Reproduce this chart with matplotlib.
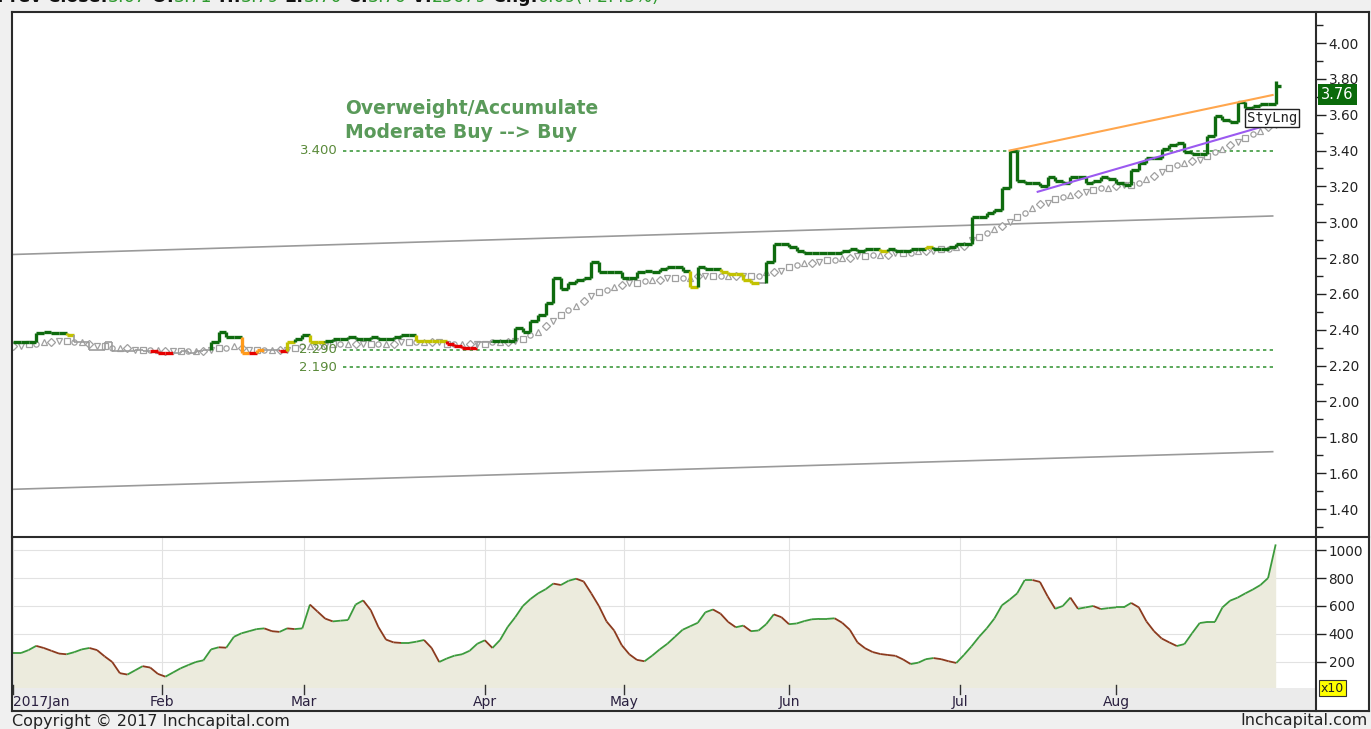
import numpy as np
import matplotlib
matplotlib.use('Agg')
import matplotlib.pyplot as plt
from matplotlib.collections import LineCollection
from matplotlib.patches import Rectangle
from matplotlib.lines import Line2D
from matplotlib.ticker import MultipleLocator

# ---------- data (one value per trading day) ----------
close = [2.33, 2.33, 2.33, 2.38, 2.39, 2.38, 2.38, 2.37, 2.33, 2.33,
         2.29, 2.29, 2.33, 2.28, 2.28, 2.28, 2.29, 2.28, 2.28, 2.27,
         2.27, 2.27, 2.28, 2.27, 2.28, 2.29, 2.33, 2.39, 2.36, 2.36,
         2.27, 2.27, 2.29, 2.29, 2.29, 2.28, 2.33, 2.35, 2.37, 2.33,
         2.33, 2.34, 2.35, 2.35, 2.36, 2.35, 2.35, 2.36, 2.35, 2.35,
         2.36, 2.37, 2.37, 2.34, 2.34, 2.34, 2.34, 2.32, 2.31, 2.30,
         2.30, 2.33, 2.33, 2.34, 2.34, 2.34, 2.41, 2.39, 2.45, 2.48,
         2.55, 2.69, 2.63, 2.66, 2.68, 2.69, 2.78, 2.72, 2.72, 2.72,
         2.69, 2.69, 2.72, 2.73, 2.72, 2.74, 2.75, 2.75, 2.73, 2.64,
         2.75, 2.74, 2.74, 2.72, 2.71, 2.71, 2.68, 2.66, 2.66, 2.78,
         2.88, 2.88, 2.86, 2.84, 2.83, 2.83, 2.83, 2.83, 2.83, 2.84,
         2.85, 2.84, 2.85, 2.85, 2.84, 2.85, 2.84, 2.84, 2.85, 2.85,
         2.86, 2.85, 2.85, 2.86, 2.88, 2.88, 3.03, 3.03, 3.05, 3.07,
         3.19, 3.40, 3.23, 3.22, 3.22, 3.20, 3.25, 3.23, 3.22, 3.25,
         3.25, 3.22, 3.23, 3.25, 3.24, 3.22, 3.21, 3.29, 3.33, 3.36,
         3.36, 3.41, 3.43, 3.44, 3.39, 3.38, 3.38, 3.48, 3.59, 3.57,
         3.56, 3.67, 3.64, 3.65, 3.66, 3.66, 3.76]

# bar colour state: G green, Y yellow, O orange, R red, N neutral
state_runs = [('G', 7), ('Y', 1), ('N', 10), ('R', 3), ('N', 5), ('G', 4),
              ('O', 1), ('R', 1), ('O', 1), ('N', 2), ('R', 1), ('Y', 1),
              ('G', 2), ('Y', 2), ('G', 12), ('Y', 4), ('R', 4), ('N', 2),
              ('G', 26), ('Y', 1), ('G', 3), ('Y', 5), ('N', 1), ('G', 15),
              ('Y', 1), ('G', 5), ('Y', 1), ('G', 46)]

trail = [2.31, 2.31, 2.32, 2.32, 2.33, 2.33, 2.34, 2.34, 2.33, 2.33,
         2.32, 2.31, 2.31, 2.30, 2.30, 2.30, 2.29, 2.29, 2.29, 2.29,
         2.28, 2.28, 2.28, 2.28, 2.28, 2.28, 2.29, 2.30, 2.30, 2.31,
         2.30, 2.29, 2.29, 2.29, 2.29, 2.29, 2.29, 2.30, 2.31, 2.31,
         2.31, 2.31, 2.32, 2.32, 2.32, 2.32, 2.32, 2.32, 2.32, 2.32,
         2.32, 2.33, 2.33, 2.33, 2.33, 2.33, 2.33, 2.32, 2.32, 2.32,
         2.32, 2.32, 2.32, 2.33, 2.33, 2.33, 2.34, 2.35, 2.37, 2.39,
         2.42, 2.45, 2.48, 2.51, 2.53, 2.56, 2.59, 2.61, 2.62, 2.64,
         2.65, 2.66, 2.66, 2.67, 2.68, 2.68, 2.69, 2.69, 2.69, 2.69,
         2.70, 2.70, 2.70, 2.70, 2.70, 2.70, 2.70, 2.70, 2.70, 2.72,
         2.72, 2.73, 2.75, 2.76, 2.77, 2.77, 2.78, 2.79, 2.79, 2.80,
         2.80, 2.81, 2.81, 2.82, 2.82, 2.82, 2.83, 2.83, 2.83, 2.84,
         2.84, 2.84, 2.85, 2.85, 2.86, 2.87, 2.90, 2.92, 2.94, 2.96,
         2.98, 3.00, 3.03, 3.05, 3.08, 3.10, 3.11, 3.13, 3.14, 3.15,
         3.16, 3.17, 3.18, 3.19, 3.19, 3.20, 3.21, 3.21, 3.22, 3.24,
         3.26, 3.28, 3.30, 3.32, 3.33, 3.34, 3.35, 3.37, 3.39, 3.41,
         3.43, 3.45, 3.47, 3.49, 3.51, 3.53, 3.54]

osc = [264, 264, 285, 315, 300, 280, 260, 255, 270, 290,
       300, 285, 240, 200, 120, 110, 140, 170, 160, 115,
       95, 125, 155, 178, 200, 212, 290, 305, 302, 380,
       405, 420, 435, 440, 420, 415, 440, 435, 440, 610,
       560, 510, 490, 495, 500, 610, 640, 570, 450, 360,
       340, 336, 336, 345, 357, 300, 200, 225, 245, 255,
       280, 330, 355, 300, 357, 450, 520, 600, 650, 690,
       720, 760, 750, 780, 795, 775, 690, 600, 490, 425,
       320, 255, 215, 205, 245, 290, 330, 380, 430, 455,
       480, 555, 575, 545, 486, 448, 460, 420, 425, 470,
       540, 520, 470, 475, 492, 505, 508, 508, 512, 480,
       430, 340, 298, 271, 257, 250, 244, 218, 185, 195,
       220, 228, 220, 205, 193, 250, 312, 380, 440, 510,
       605, 645, 690, 786, 786, 772, 670, 580, 600, 660,
       580, 590, 600, 578, 585, 590, 590, 622, 590, 490,
       420, 368, 340, 314, 328, 405, 478, 486, 486, 590,
       638, 660, 690, 718, 750, 800, 1040]

last_low, last_high = 3.70, 3.79

month_pos = [0, 19.5, 38.2, 62, 80.3, 102, 124.5, 145]
month_lbl = ['2017Jan', 'Feb', 'Mar', 'Apr', 'May', 'Jun', 'Jul', 'Aug']

levels = [3.40, 2.29, 2.19]
level_lbl = ['3.400', '2.290', '2.190']

chan_x = [-0.2, 165.6]
chan_upper = [2.82, 3.035]
chan_lower = [1.51, 1.72]
res_x, res_y = [131, 165.6], [3.40, 3.71]
sup_x, sup_y = [134.7, 165.6], [3.17, 3.55]

price_ticks = [1.40, 1.60, 1.80, 2.00, 2.20, 2.40, 2.60, 2.80, 3.00, 3.20,
               3.40, 3.60, 3.80, 4.00]
osc_ticks = [200, 400, 600, 800, 1000]

header = [('Prev Close:', 'k'), ('3.67', 'g'), (' O:', 'k'), ('3.71', 'g'),
          (' H:', 'k'), ('3.79', 'g'), (' L:', 'k'), ('3.70', 'g'),
          (' C:', 'k'), ('3.76', 'g'), (' V:', 'k'), ('25679', 'g'),
          (' Chg:', 'k'), ('0.09(+2.45%)', 'g')]

# ---------- figure ----------
W, H = 1371, 729
fig = plt.figure(figsize=(W / 100, H / 100), dpi=100, facecolor='#f0f0f0')


def box(x0, y0, x1, y1):
    return [x0 / W, 1 - y1 / H, (x1 - x0) / W, (y1 - y0) / H]


def fx(px):
    return px / W


def fy(py):
    return 1 - py / H


fig.add_artist(Rectangle((fx(12), fy(711)), (1369 - 12) / W, (711 - 12) / H,
                         transform=fig.transFigure, facecolor='white',
                         edgecolor='none', zorder=-5))

n = len(close)
x = np.arange(n)
state = ''.join(c * k for c, k in state_runs)
col_of = {'G': '#0f6b0f', 'Y': '#c2c200', 'O': '#ff9a1a', 'R': '#e60000', 'N': '#9c9c9c'}
XL = (-0.18, 171.3)

# ---- price panel
ax = fig.add_axes(box(12, 12, 1316, 537))
ax.set_facecolor('none')
ax.set_xlim(*XL)
ax.set_ylim(1.244, 4.173)
for s in ax.spines.values():
    s.set_visible(False)
ax.set_xticks([])
ax.yaxis.tick_right()
ax.set_yticks(price_ticks)
ax.set_yticklabels(['%.2f' % v for v in price_ticks])
ax.yaxis.set_minor_locator(MultipleLocator(0.1))
ax.tick_params(axis='y', which='major', direction='out', length=7, width=1,
               labelsize=9.8, pad=2, colors='#222222')
ax.tick_params(axis='y', which='minor', direction='out', length=5, width=1, colors='#222222')

# channel lines
ax.plot(chan_x, chan_upper, color='#9a9a9a', lw=1.2, zorder=1)
ax.plot(chan_x, chan_lower, color='#9a9a9a', lw=1.2, zorder=1)

# dotted levels
for lv, lb in zip(levels, level_lbl):
    ax.plot([43.3, 165.6], [lv, lv], color='#3f9a3f', lw=1.2, ls=(0, (2, 2)), zorder=1)
    ax.text(42.6, lv, lb, ha='right', va='center', fontsize=9.5, color='#5a8a3a')

# trailing markers
shapes = ['D', 'v', 's', 'o', '^']
for k, m in enumerate(shapes):
    ax.plot(x[k::len(shapes)], trail[k::len(shapes)], ls='none', marker=m, ms=3.8,
            mfc='white', mec='#a0a0a0', mew=0.9, zorder=2)

# step price bars
segs, cols, lws = [], [], []
for i in range(n):
    c = col_of[state[i]]
    w = 1.2 if state[i] == 'N' else 2.4
    if i == n - 1:
        segs.append([(i, min(close[i - 1], last_low)), (i, last_high)])
        segs.append([(i, close[i]), (i + 0.7, close[i])])
        cols += [c, c]
        lws += [w, w]
        continue
    if i > 0:
        segs.append([(i, close[i - 1]), (i, close[i])])
        cols.append(c)
        lws.append(w)
    segs.append([(i, close[i]), (i + 1, close[i])])
    cols.append(c)
    lws.append(w)
ax.add_collection(LineCollection(segs, colors=cols, linewidths=lws, zorder=3,
                                 capstyle='butt'))

# trend lines
ax.plot(res_x, res_y, color='#ffa64d', lw=1.5, zorder=4)
ax.plot(sup_x, sup_y, color='#9b59f0', lw=1.5, zorder=4)

ax.text(43.6, 3.637, 'Overweight/Accumulate', fontsize=13.5, fontweight='bold',
        color='#5a9a5a', va='center', ha='left')
ax.text(43.6, 3.503, 'Moderate Buy --> Buy', fontsize=13.5, fontweight='bold',
        color='#5a9a5a', va='center', ha='left')

ax.text(162.2, 3.58, 'StyLng', fontsize=10, family='DejaVu Sans Mono', va='center',
        ha='left', color='#222222', zorder=6,
        bbox=dict(boxstyle='square,pad=0.15', facecolor='white', edgecolor='#222222', lw=1))

ax.text(1.004, 3.712, '3.76', transform=ax.get_yaxis_transform(), fontsize=10.5,
        color='white', va='center', ha='left',
        bbox=dict(boxstyle='square,pad=0.22', facecolor='#0a6a0a', edgecolor='none'))

# ---- oscillator panel
ax2 = fig.add_axes(box(12, 537, 1316, 688))
ax2.set_facecolor('none')
ax2.set_xlim(*XL)
ax2.set_ylim(14, 1093)
for s in ax2.spines.values():
    s.set_visible(False)
ax2.set_xticks(month_pos)
ax2.tick_params(axis='x', length=0, labelbottom=False)
ax2.grid(True, color='#e2e2e2', lw=0.8)
ax2.set_axisbelow(True)
ax2.yaxis.tick_right()
ax2.set_yticks(osc_ticks)
ax2.tick_params(axis='y', direction='out', length=7, width=1, labelsize=9.8, pad=2,
                colors='#222222')
ax2.fill_between(x, 0, osc, color='#ecebdd', zorder=1, lw=0)
osc_a = np.array(osc)
pts = np.column_stack([x, osc_a])
osegs = np.stack([pts[:-1], pts[1:]], axis=1)
ocols = ['#3c9a3c' if osc_a[i + 1] >= osc_a[i] else '#8b3a1e' for i in range(n - 1)]
ax2.add_collection(LineCollection(osegs, colors=ocols, linewidths=1.3, zorder=3))

fig.text(fx(1321), fy(688), 'x10', fontsize=9, va='center', ha='left', color='#222222',
         bbox=dict(boxstyle='square,pad=0.15', facecolor='#ffff00', edgecolor='#333333', lw=0.8))

# ---- month band
axb = fig.add_axes(box(12, 688, 1316, 711))
axb.set_xlim(*XL)
axb.set_ylim(0, 1)
axb.axis('off')
axb.add_patch(Rectangle((0, 0), 1, 1, transform=axb.transAxes, facecolor='#ebebeb',
                        edgecolor='none', zorder=0))
for p, lb in zip(month_pos, month_lbl):
    axb.plot([p, p], [0.72, 1.15], color='#333333', lw=1, clip_on=False, zorder=2)
    axb.text(p, 0.4, lb, ha='left' if lb.startswith('2017') else 'center', va='center',
             fontsize=10, color='#2a2040')

# ---- frame lines
fl = dict(transform=fig.transFigure, color='#2b2b2b', lw=1.5, zorder=10)
fig.add_artist(Line2D([fx(12), fx(1369)], [fy(12), fy(12)], **fl))
fig.add_artist(Line2D([fx(12), fx(1369)], [fy(711), fy(711)], **fl))
fig.add_artist(Line2D([fx(12), fx(12)], [fy(12), fy(711)], **fl))
fig.add_artist(Line2D([fx(1369), fx(1369)], [fy(12), fy(711)], **fl))
fig.add_artist(Line2D([fx(1316), fx(1316)], [fy(12), fy(711)], **fl))
fig.add_artist(Line2D([fx(12), fx(1369)], [fy(537), fy(537)], **fl))

# ---- header (cut off at the top, as in the original) and footer
hdr = []
for txt, c in header:
    hdr.append(fig.text(fx(-3), fy(2.5), txt, fontsize=12.5,
                        fontweight='bold' if c == 'k' else 'normal',
                        color='#111111' if c == 'k' else '#2e9a2e',
                        va='baseline', ha='left'))
fig.canvas.draw()
r = fig.canvas.get_renderer()
for a, b in zip(hdr[:-1], hdr[1:]):
    bb = a.get_window_extent(r)
    b.set_x(bb.x1 / W)

fig.text(fx(12), fy(721), 'Copyright \u00a9 2017 Inchcapital.com', fontsize=11.5,
         color='#222222', va='center', ha='left')
fig.text(fx(1368), fy(721), 'Inchcapital.com', fontsize=11.5, color='#222222',
         va='center', ha='right')

fig.savefig('out.png', dpi=100, facecolor=fig.get_facecolor())
